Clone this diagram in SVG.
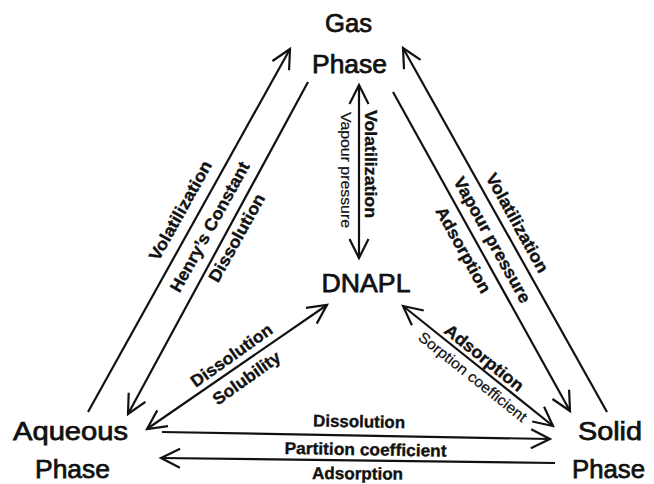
<svg xmlns="http://www.w3.org/2000/svg" width="654" height="484" viewBox="0 0 654 484">
<style>
.node{font-family:"Liberation Sans",Arial,sans-serif;font-size:26px;fill:#111;text-anchor:middle;stroke:#111;stroke-width:0.75px}
.lbl{font-family:"Liberation Sans",Arial,sans-serif;font-size:17px;font-weight:bold;fill:#111;text-anchor:middle;dominant-baseline:central;stroke:#111;stroke-width:0.35px}
.sm{font-family:"Liberation Sans",Arial,sans-serif;font-size:15px;fill:#111;text-anchor:middle;dominant-baseline:central;stroke:#111;stroke-width:0.2px}
.hl{dominant-baseline:auto}
.c{fill:none;stroke:#111;stroke-width:2.2;marker-end:url(#ah)}
.d{marker-start:url(#ah)}
</style>
<defs>
<marker id="ah" viewBox="-24 -14 28 28" refX="0" refY="0" markerWidth="28" markerHeight="28" markerUnits="userSpaceOnUse" orient="auto-start-reverse" overflow="visible">
<path d="M-19,-9.5 L0,0 L-19,9.5" fill="none" stroke="#111" stroke-width="2.2"/>
</marker>
</defs>
<rect width="654" height="484" fill="#fff"/>
<g id="connectors">
<path id="aq-gas" class="c" d="M88,412 L290,49"/>
<path id="gas-aq" class="c" d="M308,82 L128,414"/>
<path id="solid-gas" class="c" d="M607,412 L403,48"/>
<path id="gas-solid" class="c" d="M393,92 L570,411"/>
<path id="gas-dnapl" class="c d" d="M359,85 L359,258"/>
<path id="aq-dnapl" class="c d" d="M147,429 L327,305"/>
<path id="dnapl-solid" class="c d" d="M403,306 L553,426"/>
<path id="aq-solid" class="c" d="M162,432 L550,439"/>
<path id="solid-aq" class="c" d="M555,463 L161,458"/>
</g>
<g id="connector-labels">
<text class="lbl" transform="translate(180.7,210.7) rotate(-61)" textLength="111" lengthAdjust="spacingAndGlyphs">Volatilization</text>
<text class="lbl" transform="translate(210,227) rotate(-61)" textLength="146" lengthAdjust="spacingAndGlyphs">Henry’s Constant</text>
<text class="lbl" transform="translate(237,238) rotate(-61)" textLength="98" lengthAdjust="spacingAndGlyphs">Dissolution</text>
<text class="lbl" transform="translate(517,223) rotate(61)" textLength="111" lengthAdjust="spacingAndGlyphs">Volatilization</text>
<text class="lbl" transform="translate(492,240) rotate(61)" textLength="141" lengthAdjust="spacingAndGlyphs">Vapour pressure</text>
<text class="lbl" transform="translate(463,250) rotate(61)" textLength="96" lengthAdjust="spacingAndGlyphs">Adsorption</text>
<text class="lbl" transform="translate(370.7,164) rotate(90)" textLength="108" lengthAdjust="spacingAndGlyphs">Volatilization</text>
<text class="sm" transform="translate(346.7,170) rotate(90)" textLength="116" lengthAdjust="spacingAndGlyphs">Vapour pressure</text>
<text class="lbl" transform="translate(231.7,355.7) rotate(-35.5)" textLength="96" lengthAdjust="spacingAndGlyphs">Dissolution</text>
<text class="lbl" transform="translate(246.7,378.3) rotate(-35.5)" textLength="79" lengthAdjust="spacingAndGlyphs">Solubility</text>
<text class="lbl" transform="translate(484,358) rotate(38.7)" textLength="96" lengthAdjust="spacingAndGlyphs">Adsorption</text>
<text class="sm" transform="translate(473,376.5) rotate(38.7)" textLength="134" lengthAdjust="spacingAndGlyphs">Sorption coefficient</text>
<text class="lbl hl" transform="translate(359,427.3) rotate(1)" textLength="92" lengthAdjust="spacingAndGlyphs">Dissolution</text>
<text class="lbl hl" transform="translate(365.5,455.3) rotate(1)" textLength="162" lengthAdjust="spacingAndGlyphs">Partition coefficient</text>
<text class="lbl hl" transform="translate(357.5,479.3) rotate(0.5)" textLength="91" lengthAdjust="spacingAndGlyphs">Adsorption</text>
</g>
<g id="gas-phase">
<text class="node" x="348.5" y="32" textLength="47" lengthAdjust="spacingAndGlyphs">Gas</text>
<text class="node" x="349.5" y="73" textLength="75" lengthAdjust="spacingAndGlyphs">Phase</text>
</g>
<g id="dnapl">
<text class="node" x="366" y="292" textLength="89" lengthAdjust="spacingAndGlyphs">DNAPL</text>
</g>
<g id="aqueous-phase">
<text class="node" x="70.5" y="440" textLength="115" lengthAdjust="spacingAndGlyphs">Aqueous</text>
<text class="node" x="72.5" y="478" textLength="75" lengthAdjust="spacingAndGlyphs">Phase</text>
</g>
<g id="solid-phase">
<text class="node" x="610" y="440" textLength="64" lengthAdjust="spacingAndGlyphs">Solid</text>
<text class="node" x="608.5" y="478" textLength="73" lengthAdjust="spacingAndGlyphs">Phase</text>
</g>
</svg>
